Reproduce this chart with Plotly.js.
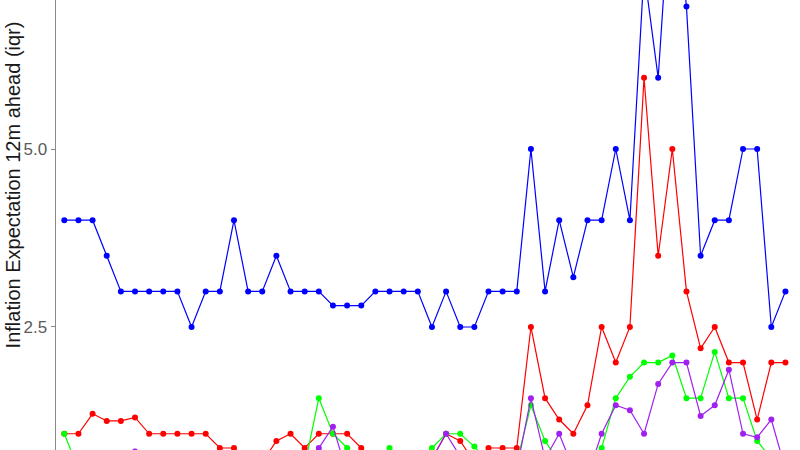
<!DOCTYPE html>
<html>
<head>
<meta charset="utf-8">
<script src="https://cdn.plot.ly/plotly-3.0.1.min.js"></script>
<style>
  html, body { margin: 0; padding: 0; background: #fff; }
  #chart { width: 800px; height: 450px; }
</style>
</head>
<body>
<div id="chart"></div>
<script>
// survey rounds (x axis is cut off in the picture, so just an index)
const periods = Array.from({length: 52}, (_, i) => i + 1);

// interquartile range of 12m-ahead expectations, one array per group
const iqrBlue = [4.0, 4.0, 4.0, 3.5, 3.0, 3.0, 3.0, 3.0, 3.0, 2.5, 3.0, 3.0, 4.0, 3.0, 3.0, 3.5,
  3.0, 3.0, 3.0, 2.8, 2.8, 2.8, 3.0, 3.0, 3.0, 3.0, 2.5, 3.0, 2.5, 2.5, 3.0, 3.0, 3.0, 5.0,
  3.0, 4.0, 3.2, 4.0, 4.0, 5.0, 4.0, 7.5, 6.0, 9.0, 7.0, 3.5, 4.0, 4.0, 5.0, 5.0, 2.5, 3.0];
const iqrRed = [1.0, 1.0, 1.28, 1.18, 1.18, 1.23, 1.0, 1.0, 1.0, 1.0, 1.0, 0.8, 0.8, 0.6, 0.6, 0.9,
  1.0, 0.8, 1.0, 1.0, 1.0, 0.8, 0.6, 0.7, 0.7, 0.6, 0.65, 1.0, 0.9, 0.6, 0.8, 0.8, 0.8, 2.5,
  1.5, 1.2, 1.0, 1.4, 2.5, 2.0, 2.5, 6.0, 3.5, 5.0, 3.0, 2.2, 2.5, 2.0, 2.0, 1.2, 2.0, 2.0];
const iqrGreen = [1.0, 0.5, 0.5, 0.6, 0.5, 0.6, 0.5, 0.5, 0.6, 0.5, 0.5, 0.6, 0.5, 0.5, 0.6, 0.5,
  0.5, 0.55, 1.5, 1.0, 0.8, 0.6, 0.6, 0.8, 0.6, 0.6, 0.8, 1.0, 1.0, 0.82, 0.6, 0.6, 0.6, 1.4,
  0.9, 0.6, 0.5, 0.5, 0.8, 1.5, 1.8, 2.0, 2.0, 2.1, 1.5, 1.5, 2.15, 1.5, 1.5, 0.9, 0.65, 0.5];
const iqrPurple = [0.5, 0.5, 0.6, 0.6, 0.6, 0.75, 0.5, 0.6, 0.5, 0.5, 0.6, 0.5, 0.5, 0.6, 0.5, 0.5,
  0.6, 0.6, 0.8, 1.1, 0.45, 0.5, 0.5, 0.6, 0.5, 0.5, 0.65, 1.0, 0.68, 0.5, 0.5, 0.6, 0.5, 1.5,
  0.65, 1.0, 0.5, 0.4, 1.0, 1.4, 1.33, 1.0, 1.7, 2.0, 2.0, 1.25, 1.4, 1.9, 1.0, 0.95, 1.2, 0.5];

const yTicks = [2.5, 5.0];
const yTickText = ['2.5', '5.0'];

const series = [
  {name: 'blue', y: iqrBlue, color: '#0000FF'},
  {name: 'red', y: iqrRed, color: '#FF0000'},
  {name: 'green', y: iqrGreen, color: '#00FF00'},
  {name: 'purple', y: iqrPurple, color: '#A020F0'}
];

const traces = series.map(s => ({
  x: periods, y: s.y, name: s.name, type: 'scatter', mode: 'lines+markers',
  line: {color: s.color, width: 1.2},
  marker: {color: s.color, size: 6},
  showlegend: false, hoverinfo: 'none'
}));

const layout = {
  width: 800, height: 450,
  margin: {l: 56, r: 0, t: 0, b: 0},
  paper_bgcolor: '#fff', plot_bgcolor: '#fff',
  font: {family: '"Liberation Sans", Arial, sans-serif'},
  xaxis: {
    range: [0.413, 53.03], showgrid: false, zeroline: false,
    showline: false, showticklabels: false, ticks: ''
  },
  yaxis: {
    range: [0.772, 7.093], showgrid: false, zeroline: false,
    showline: true, linecolor: '#8a8a8a', linewidth: 1.5,
    tickvals: yTicks, ticktext: yTickText,
    ticks: 'outside', ticklen: 4, tickcolor: '#8a8a8a', tickwidth: 1,
    tickfont: {size: 17, color: '#5a5a5a'}
  },
  // axis title placed by hand: the real plot runs below the visible crop
  annotations: [{
    text: 'Inflation Expectation 12m ahead (iqr)',
    xref: 'paper', yref: 'paper', x: -0.0585, y: 0.589,
    xanchor: 'center', yanchor: 'middle', textangle: -90, showarrow: false,
    font: {size: 20, color: '#1a1a1a'}
  }]
};

Plotly.newPlot('chart', traces, layout, {displayModeBar: false, staticPlot: true});
</script>
</body>
</html>
